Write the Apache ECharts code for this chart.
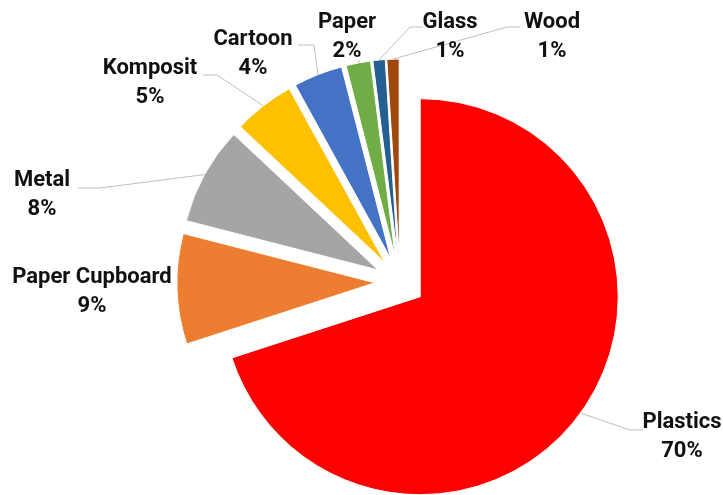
<!DOCTYPE html>
<html>
<head>
<meta charset="utf-8">
<script src="https://cdn.jsdelivr.net/npm/echarts@6/dist/echarts.min.js"></script>
<style>
  html, body { margin: 0; padding: 0; background: #ffffff; }
  #chart { width: 723px; height: 495px; }
</style>
</head>
<body>
<div id="chart"></div>
<script>
// Packaging waste by material, share in percent
const categories = ['Plastics', 'Paper Cupboard', 'Metal', 'Komposit', 'Cartoon', 'Paper', 'Glass', 'Wood'];
const shares = [70, 9, 8, 5, 4, 2, 1, 1];
const colors = ['#FF0000', '#ED7D31', '#A5A5A5', '#FFC000', '#4472C4', '#70AD47', '#255E91', '#9E480E'];

// Label block centres and leader-line bend points, in px
const labelSpots = [
  { x: 682, y: 437, bends: [[630, 430], [643, 430]] },
  { x: 92,  y: 292, bends: null },
  { x: 42,  y: 195, bends: [[100, 188], [78, 188]] },
  { x: 150, y: 83,  bends: [[217, 75], [203, 75]] },
  { x: 253, y: 54,  bends: [[314, 45], [298, 45]] },
  { x: 347, y: 37,  bends: [[360, 60]] },
  { x: 450, y: 37,  bends: [[410, 27], [423, 27]] },
  { x: 552, y: 37,  bends: [[507, 27], [520, 27]] }
];

const PIE_CENTER = [400, 282];
const PIE_RADIUS = 198;
const EXPLODE = 25;

const chart = echarts.init(document.getElementById('chart'), null, { renderer: 'canvas' });

// Exploded slices: every slice pulled out from the centre
const sliceData = categories.map(function (name, i) {
  return { name: name, value: shares[i], selected: true, itemStyle: { color: colors[i] } };
});

// Same values again, unfilled, carrying the category labels and leader lines
const labelData = categories.map(function (name, i) {
  const item = { name: name, value: shares[i] };
  if (!labelSpots[i].bends) item.labelLine = { show: false };
  return item;
});

chart.setOption({
  animation: false,
  backgroundColor: '#ffffff',
  series: [{
    type: 'pie',
    center: PIE_CENTER,
    radius: PIE_RADIUS,
    startAngle: 90,
    clockwise: true,
    selectedMode: 'multiple',
    selectedOffset: EXPLODE,
    silent: true,
    itemStyle: { borderColor: '#ffffff', borderWidth: 1 },
    select: { itemStyle: { borderColor: '#ffffff', borderWidth: 1 } },
    emphasis: { disabled: true },
    label: { show: false },
    labelLine: { show: false },
    data: sliceData
  }, {
    type: 'pie',
    center: PIE_CENTER,
    radius: PIE_RADIUS,
    startAngle: 90,
    clockwise: true,
    silent: true,
    z: 3,
    avoidLabelOverlap: false,
    itemStyle: { color: 'rgba(0,0,0,0)', borderWidth: 0 },
    emphasis: { disabled: true },
    label: {
      show: true,
      position: 'outside',
      formatter: '{b}\n{c}%',
      fontFamily: 'Roboto',
      fontWeight: 'bold',
      fontSize: 22,
      lineHeight: 29,
      color: '#111111',
      align: 'center'
    },
    labelLine: {
      show: true,
      length: 15,
      length2: 15,
      lineStyle: { color: '#BFBFBF', width: 1 }
    },
    labelLayout: function (p) {
      const s = labelSpots[p.dataIndex];
      const out = { x: s.x, y: s.y, align: 'center', verticalAlign: 'middle' };
      if (s.bends && p.labelLinePoints) {
        // start the leader on the pulled-out slice edge
        const a = p.labelLinePoints[0];
        const vx = a[0] - PIE_CENTER[0];
        const vy = a[1] - PIE_CENTER[1];
        const len = Math.sqrt(vx * vx + vy * vy) || 1;
        const start = [a[0] + vx / len * EXPLODE, a[1] + vy / len * EXPLODE];
        out.labelLinePoints = [start].concat(s.bends);
      }
      return out;
    },
    data: labelData
  }]
});
</script>
</body>
</html>
